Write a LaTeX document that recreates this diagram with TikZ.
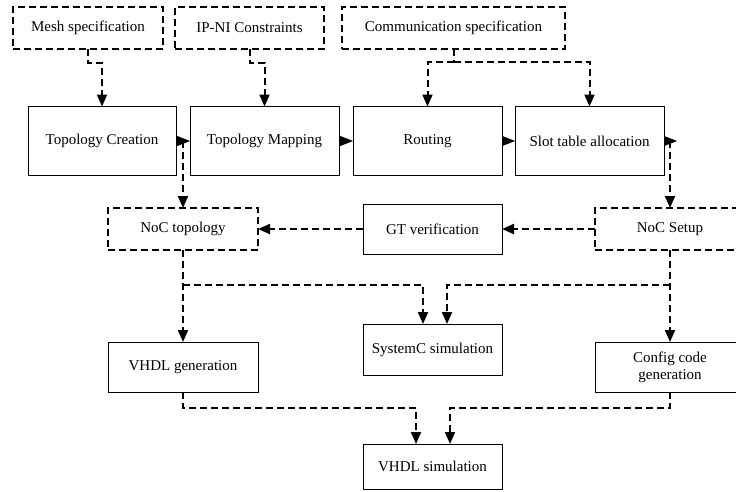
\documentclass[tikz,border=0pt]{standalone}
\usepackage{fontspec}
\setmainfont{Liberation Serif}
\usetikzlibrary{arrows.meta, positioning, calc}

\begin{document}
\begin{tikzpicture}[
    x=1pt, y=1pt,
    block/.style={rectangle, draw=black, line width=0.8pt, outer sep=0pt, minimum width=149pt, minimum height=69pt, align=center, font=\fontsize{15}{17}\selectfont},
    spec/.style={block, line width=2pt, dash pattern=on 7pt off 4pt, minimum width=150pt, minimum height=42pt},
    sarrow/.style={-{Triangle[length=13pt, width=10pt]}, line width=0.8pt},
    dline/.style={line width=2pt, dash pattern=on 7pt off 4pt},
    darrow/.style={dline, -{Triangle[length=12pt, width=10pt]}},
  ]
  \clip (0,0) rectangle (736,-491);

  % Specifications
  \node[spec] (mesh) at (88,-28) {Mesh specification};
  \node[spec, minimum width=149pt] (ipni) at (249.5,-28) {IP-NI Constraints};
  \node[spec, minimum width=223pt] (comm) at (453.5,-28) {Communication specification};

  % Design flow
  \node[block, minimum width=148pt] (creation) at (102,-141) {Topology Creation};
  \node[block, right=14pt of creation] (mapping) {Topology Mapping};
  \node[block, right=14pt of mapping] (routing) {Routing};
  \node[block, right=13pt of routing] (slot) {Slot table allocation};

  % NoC description
  \node[spec] (noctopo) at (183,-229) {NoC topology};
  \node[block, minimum width=139pt, minimum height=50pt] (gtver) at (432.5,-229) {GT verification};
  \node[spec] (nocsetup) at (670,-229) {NoC Setup};

  % Generation
  \node[block, minimum width=150pt, minimum height=50pt] (vhdlgen) at (183,-367) {VHDL generation};
  \node[block, minimum width=139pt, minimum height=51pt] (systemc) at (432.5,-349.5) {SystemC simulation};
  \node[block, minimum width=150pt, minimum height=50pt] (config) at (670,-367) {Config code\\generation};

  % Simulation
  \node[block, minimum width=139pt, minimum height=45pt, below=69pt of systemc] (vhdlsim) {VHDL simulation};

  % Helper points
  \coordinate (commsplit) at ($(comm.south)+(0,-13)$);
  \coordinate (tapleft) at ($(creation.east)!0.5!(mapping.west)$);
  \coordinate (slotout) at ($(slot.east)+(13,0)$);
  \coordinate (tapright) at (nocsetup.north |- slot.east);
  \coordinate (forkleft) at ($(noctopo.south)+(0,-35)$);
  \coordinate (forkright) at ($(nocsetup.south)+(0,-35)$);

  % Arrows
  \draw[darrow] (mesh.south) -- ++(0,-14) -| (creation.north);
  \draw[darrow] (ipni.south) -- ++(0,-14) -| (mapping.north);
  \draw[dline] (comm.south) -- (commsplit);
  \draw[darrow] (commsplit) -| (routing.north);
  \draw[darrow] (commsplit) -| (slot.north);
  \draw[sarrow] (creation) -- (mapping);
  \draw[sarrow] (mapping) -- (routing);
  \draw[sarrow] (routing) -- (slot);
  \draw[sarrow] (slot) -- (slotout);
  \draw[darrow] (tapleft) -- (tapleft |- noctopo.north);
  \draw[darrow] (tapright) -- (nocsetup.north);
  \draw[darrow] (nocsetup) -- (gtver);
  \draw[darrow] (gtver) -- (noctopo);
  \draw[darrow] (noctopo) -- (vhdlgen);
  \draw[darrow] (forkleft) -| ([xshift=-9.5pt]systemc.north);
  \draw[darrow] (nocsetup) -- (config);
  \draw[darrow] (forkright) -| ([xshift=14.5pt]systemc.north);
  \draw[darrow] (vhdlgen.south) -- ++(0,-16) -| ([xshift=-16.5pt]vhdlsim.north);
  \draw[darrow] (config.south) -- ++(0,-16) -| ([xshift=17.5pt]vhdlsim.north);

\end{tikzpicture}
\end{document}
